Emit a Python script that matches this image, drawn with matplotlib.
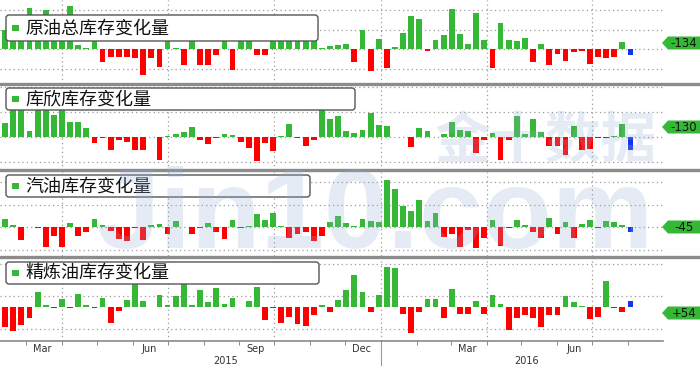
"""
EIA weekly inventory changes (crude, Cushing, gasoline, distillate), four stacked bar panels.
"""
import matplotlib.pyplot as plt
import matplotlib.dates as mdates
import numpy as np
import pandas as pd
from matplotlib.patches import FancyBboxPatch, Polygon, Rectangle
from matplotlib.transforms import Affine2D

plt.rcParams['font.family'] = ['Noto Sans CJK SC', 'DejaVu Sans']

# ================= data (万桶), weekly, last bar = latest week =================
weeks = pd.date_range("2015-02-11", periods=78, freq="7D")

titles = ["原油总库存变化量", "库欣库存变化量", "汽油库存变化量", "精炼油库存变化量"]
tags = ["-134", "-130", "-45", "+54"]

crude = [490, 640, 590, 1050, 640, 1000, 690, 590, 1100, 100,
         30, 200, -330, -200, -200, -200, -210, -670, -210, -460,
         230, 30, -410, 230, -410, -410, -150, 230, -540, 230,
         230, -150, -150, 260, 260, 260, 260, 260, 450, 30,
         80, 100, 130, -330, 490, -560, 260, -490, 50, 410,
         840, 770, -50, 230, 360, 1020, 380, 130, 920, 230,
         -490, 670, 230, 200, 280, -330, 130, -410, -130, -310,
         -80, -50, -380, -200, -230, -200, 180, -134]

cushing = [140, 300, 300, 60, 300, 280, 220, 300, 150, 150,
           90, -60, -5, -130, -30, -50, -130, -130, 5, -230,
           10, 30, 50, 100, -30, -70, -5, 30, 20, -50,
           -110, -240, -60, -140, 10, 130, -10, -90, -30, 280,
           180, 210, 60, 40, 70, 240, 120, 110, 5, 5,
           -100, 90, 60, 5, 30, 150, 70, 60, -160, -30,
           40, -230, -30, 210, 30, 180, 50, -90, -90, -180,
           110, -130, -120, -10, -10, 10, 130, -130]

gasoline = [70, 20, -110, 5, -10, -170, -80, -170, 35, -80,
            -45, 70, 20, -35, -105, -125, -10, -115, 20, 25,
            -60, 55, 5, -60, -10, 35, -45, -105, 60, -10,
            10, 115, 60, 130, 10, -95, -55, -45, -125, -80,
            45, 95, 35, 10, 70, 55, 45, 420, 335, 185,
            140, 240, 55, 125, -90, -55, -175, -25, -185, -95,
            60, -165, -10, 60, 20, -45, -95, 80, -55, 45,
            -95, 25, 60, -10, 55, 45, 20, -45]

distillate = [-185, -220, -165, -100, 145, 20, -5, 75, -10, 120,
              20, -5, 90, -145, -30, 65, 250, 55, 5, 110,
              20, 100, 250, 20, 155, 45, 175, 35, 85, 5,
              55, 185, -120, -5, -145, -85, -155, -175, -75, 20,
              -45, 65, 160, 295, 145, -40, 110, 375, 365, -65,
              -240, -45, 75, 80, -95, 165, -65, -65, 55, -65,
              110, 30, -210, -95, -70, -95, -185, -70, -70, 100,
              45, 10, -110, -90, 245, -10, -45, 54]

series = [crude, cushing, gasoline, distillate]

# ================= layout (pixels, top-left origin) =================
W, H = 700, 369
panel_px = [(0, 84), (86, 170), (172, 256), (258, 341)]
ylims = [(-888, 1262), (-327, 513), (-253, 487), (-310, 454)]
steps = [500, 250, 200, 300]
legend_px = [(6, 15, 312, 26), (6, 88, 349, 22), (6, 175, 304, 22), (6, 262, 313, 22)]
tag_y = [43, 127, 227, 313]
sep_y = [83.5, 170, 256.5]

GREEN, RED, BLUE = '#35b835', '#ff0000', '#1533ee'

fig = plt.figure(figsize=(W / 100, H / 100), dpi=100)
pix = Affine2D().scale(1 / W, -1 / H).translate(0, 1) + fig.transFigure

xmin, xmax = pd.Timestamp("2015-02-06 14:00"), pd.Timestamp("2016-08-31")
quarters = pd.to_datetime(["2015-04-01", "2015-07-01", "2015-10-01",
                           "2016-01-01", "2016-04-01", "2016-07-01"])

axes = []
for i, (vals, (top, bot)) in enumerate(zip(series, panel_px)):
    ax = fig.add_axes([0, 1 - bot / H, 663 / W, (bot - top) / H])
    colors = [GREEN if v >= 0 else RED for v in vals]
    colors[-1] = BLUE
    ax.bar(weeks, vals, width=5, color=colors, zorder=2)
    ax.set_yticks(np.arange(-2000, 2001, steps[i]))
    ax.set_xticks(quarters)
    # limits after ticks, set_ticks would widen them
    ax.set_xlim(xmin, xmax)
    ax.set_ylim(*ylims[i])
    ax.set_axisbelow(True)
    ax.grid(True, color='#9a9a9a', linestyle=(0, (1, 2.5)), linewidth=0.9)
    ax.tick_params(length=0, labelleft=False, labelbottom=False)
    for s in ax.spines.values():
        s.set_visible(False)
    axes.append(ax)

# bottom date axis
ax = axes[-1]
ax.spines['bottom'].set_visible(True)
ax.spines['bottom'].set_color('#8a8a8a')
ax.spines['bottom'].set_linewidth(1.2)
ax.xaxis.remove_overlapping_locs = False
ax.xaxis.set_minor_locator(mdates.MonthLocator())
ax.tick_params(axis='x', which='minor', length=3, color='#777777', labelbottom=False)
ax.set_xlim(xmin, xmax)
xt = ax.get_xaxis_transform()
for m in ["2015-03-15", "2015-06-15", "2015-09-15", "2015-12-15", "2016-03-15", "2016-06-15"]:
    ax.text(pd.Timestamp(m), -0.1, pd.Timestamp(m).strftime("%b"), transform=xt,
            ha='center', va='center', fontsize=7, color='#333333', family='DejaVu Sans')
ax.text(pd.Timestamp("2015-08-20"), -0.24, "2015", transform=xt, ha='center', va='center',
        fontsize=7, color='#333333', family='DejaVu Sans')
ax.text(pd.Timestamp("2016-05-05"), -0.24, "2016", transform=xt, ha='center', va='center',
        fontsize=7, color='#333333', family='DejaVu Sans')
jan = pd.Timestamp("2016-01-01")
ax.plot([jan, jan], [0, -0.29], transform=xt, color='#999999', lw=0.8, clip_on=False)

# panel separators
for y in sep_y:
    fig.add_artist(plt.Line2D([0, W], [y, y], transform=pix, color='#8c8c8c', lw=2.4, zorder=4))

# legend boxes and value tags
for i in range(4):
    x, y, w, h = legend_px[i]
    fig.add_artist(FancyBboxPatch((x, y), w, h, boxstyle="round,pad=0,rounding_size=3",
                                  transform=pix, facecolor='white', edgecolor='#555555',
                                  lw=1.0, zorder=5))
    cy = y + h / 2
    fig.add_artist(Rectangle((12, cy - 3.5), 6.5, 6.5, transform=pix, facecolor=GREEN,
                             edgecolor='none', zorder=6))
    fig.text(25, cy + 0.5, titles[i], transform=pix, ha='left', va='center',
             fontsize=13, color='#111111', zorder=6)

    ty = tag_y[i]
    fig.add_artist(Polygon([(662, ty), (668, ty - 6.5), (700, ty - 6.5), (700, ty + 6.5),
                            (668, ty + 6.5)], closed=True, transform=pix,
                           facecolor=GREEN, edgecolor='none', zorder=6))
    fig.text(684, ty + 0.5, tags[i], transform=pix, ha='center', va='center',
             fontsize=8.5, color='#111111', family='DejaVu Sans', zorder=7)

# watermark
wm = (150 / 255, 175 / 255, 215 / 255)
fig.text(375, 248, "Jin10.com", transform=pix, ha='center', va='baseline', fontsize=82,
         fontweight='bold', family='Liberation Sans', color=wm, alpha=0.24, zorder=20)
fig.text(546, 143, "金十数据", transform=pix, ha='center', va='center', fontsize=40,
         fontweight='bold', family='Noto Sans CJK SC', color=wm, alpha=0.24, zorder=20)

fig.savefig("out.png", dpi=100)
